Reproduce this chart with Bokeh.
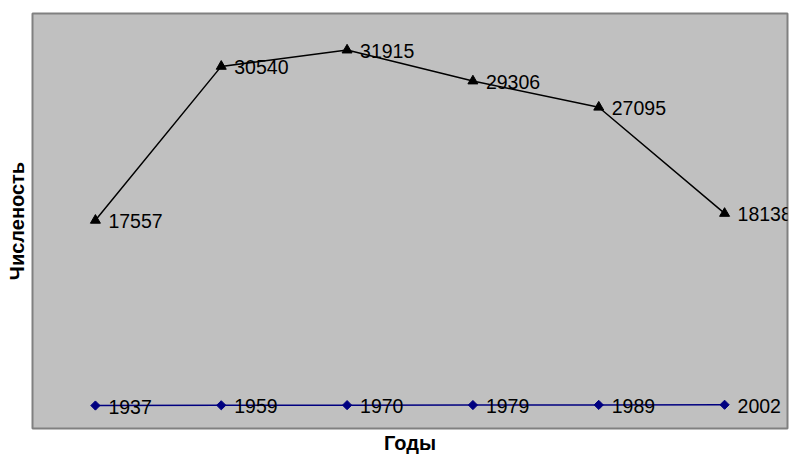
import math
from bokeh.plotting import figure
from bokeh.models import ColumnDataSource, Range1d, FixedTicker, Title
from bokeh.core.properties import value
from bokeh.embed import file_html
from bokeh.resources import INLINE

years = ["1937", "1959", "1970", "1979", "1989", "2002"]
population = [17557, 30540, 31915, 29306, 27095, 18138]
year_values = [1937, 1959, 1970, 1979, 1989, 2002]

FONT = "Liberation Sans"

pop_src = ColumnDataSource(dict(x=years, y=population, lbl=[str(v) for v in population]))
yr_src = ColumnDataSource(dict(x=years, y=year_values, lbl=[str(v) for v in year_values]))

p = figure(width=789, height=454, x_range=years, y_range=Range1d(0, 35000),
           output_backend="svg", toolbar_location=None,
           min_border_left=32, min_border_right=2, min_border_top=13, min_border_bottom=0)

p.background_fill_color = "#C0C0C0"
p.border_fill_color = "white"
p.outline_line_color = "#808080"
p.outline_line_width = 2
p.grid.visible = False

# y axis: no ticks, only its title
p.yaxis.ticker = FixedTicker(ticks=[])
p.yaxis.axis_line_color = None
p.yaxis.major_tick_line_color = None
p.yaxis.minor_tick_line_color = None
p.yaxis.axis_label = "Численость"
p.yaxis.axis_label_text_font = FONT
p.yaxis.axis_label_text_font_style = "bold"
p.yaxis.axis_label_text_font_size = "20px"
p.yaxis.axis_label_text_color = "black"
p.yaxis.axis_label_standoff = 5

# x axis: categories only positioned, title below
p.xaxis.visible = False
p.add_layout(Title(text="Годы", align="center", text_font=FONT, text_font_style="bold",
                   text_font_size="20px", text_color="black", standoff=2), "below")

# population series
p.line("x", "y", source=pop_src, line_color="black", line_width=1.5)
p.scatter("x", "y", source=pop_src, marker="triangle", size=10,
          fill_color="black", line_color="black")
p.text("x", "y", text="lbl", source=pop_src, x_offset=13, y_offset=1,
       text_baseline="middle", text_align="left", text_font=value(FONT),
       text_font_size="19.5px", text_color="black")

# years series
p.line("x", "y", source=yr_src, line_color="#000080", line_width=1.5)
p.scatter("x", "y", source=yr_src, marker="square", size=6.5, angle=math.pi / 4,
          fill_color="#000080", line_color="#000080")
p.text("x", "y", text="lbl", source=yr_src, x_offset=13, y_offset=1,
       text_baseline="middle", text_align="left", text_font=value(FONT),
       text_font_size="19.5px", text_color="black")

open("out.html", "w").write(file_html(p, INLINE))
